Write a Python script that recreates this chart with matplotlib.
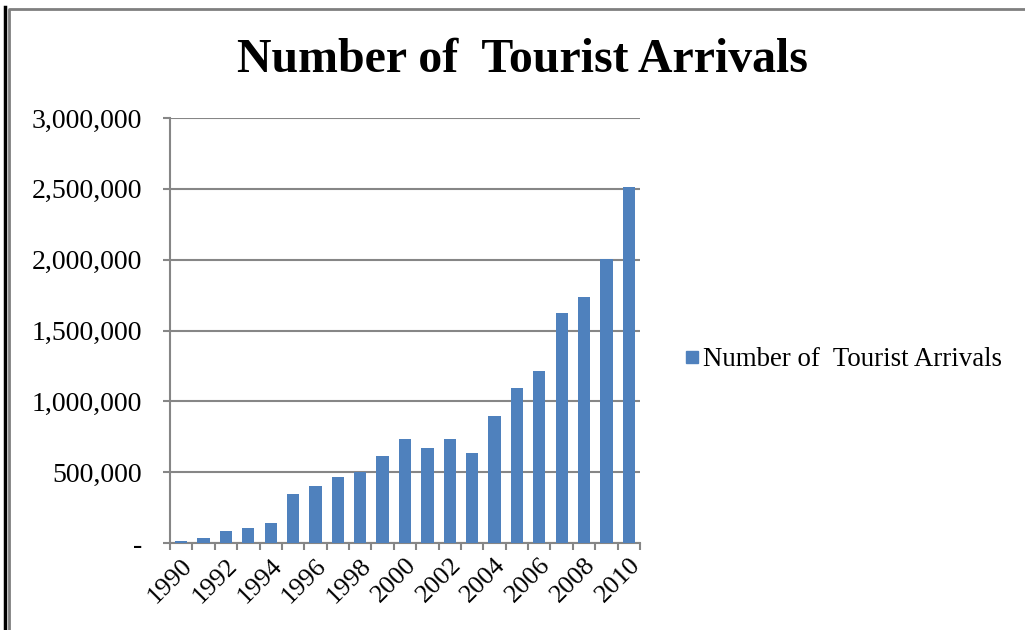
import matplotlib.pyplot as plt
import numpy as np
from matplotlib.lines import Line2D
from matplotlib.ticker import FuncFormatter, FixedLocator

# Data
years = list(range(1990, 2011))
arrivals = [12000, 38000, 88000, 104000, 144000, 346000, 405000, 464000,
            504000, 612000, 736000, 672000, 735000, 634000, 893000,
            1096000, 1213000, 1623000, 1734000, 2007000, 2513000]
series_name = "Number of  Tourist Arrivals"
title = "Number of  Tourist Arrivals"

plt.rcParams['font.family'] = ['Liberation Serif', 'DejaVu Serif']

bar_color = "#4F81BD"
grid_color = "#868686"

fig = plt.figure(figsize=(10.25, 6.3), dpi=100)
ax = fig.add_axes([170 / 1025, 87 / 630, 470 / 1025, 425 / 630])

x = np.arange(len(years))
ax.bar(x, arrivals, width=0.55, color=bar_color, label=series_name, zorder=3)

ax.set_xlim(-0.5, len(years) - 0.5)
ax.set_ylim(0, 3000000)
ax.set_yticks(np.arange(0, 3000001, 500000))
ax.yaxis.set_major_formatter(FuncFormatter(lambda v, p: "-" if v == 0 else f"{int(v):,}"))
ax.grid(axis='y', color=grid_color, linewidth=1.5, zorder=0)

# year labels every other bar, tick marks between categories
ax.set_xticks(x[::2])
ax.set_xticklabels([str(y) for y in years[::2]], rotation=45, ha='right',
                   va='top', rotation_mode='anchor')
ax.xaxis.set_minor_locator(FixedLocator(np.arange(-0.5, len(years), 1)))
ax.tick_params(axis='x', which='major', length=0, pad=8, labelsize=19)
ax.tick_params(axis='x', which='minor', length=5, width=1.5, color=grid_color)
ax.tick_params(axis='y', length=5, width=1.5, color=grid_color, labelsize=20, pad=15)

for side in ['top', 'right']:
    ax.spines[side].set_visible(False)
for side in ['left', 'bottom']:
    ax.spines[side].set_color(grid_color)
    ax.spines[side].set_linewidth(1.5)

fig.text(522 / 1025, 1 - 60 / 630, title, ha='center', va='center',
         fontsize=34.5, fontweight='bold')

handles = [Line2D([], [], marker='s', linestyle='none', markersize=9,
                  markerfacecolor=bar_color, markeredgecolor=bar_color)]
fig.legend(handles, [series_name], loc='center left',
           bbox_to_anchor=(672 / 1025, 1 - 360 / 630), frameon=False,
           fontsize=19.4, handlelength=0.5, handletextpad=0.15, borderpad=0)

# outer frame
fig.add_artist(Line2D([5 / 1025, 5 / 1025], [0, 1 - 7 / 630], color='black',
                      linewidth=2.5, transform=fig.transFigure))
fig.add_artist(Line2D([9 / 1025, 9 / 1025, 1], [0, 1 - 9 / 630, 1 - 9 / 630],
                      color='#7f7f7f', linewidth=2, transform=fig.transFigure))

fig.savefig("out.png", dpi=100)
